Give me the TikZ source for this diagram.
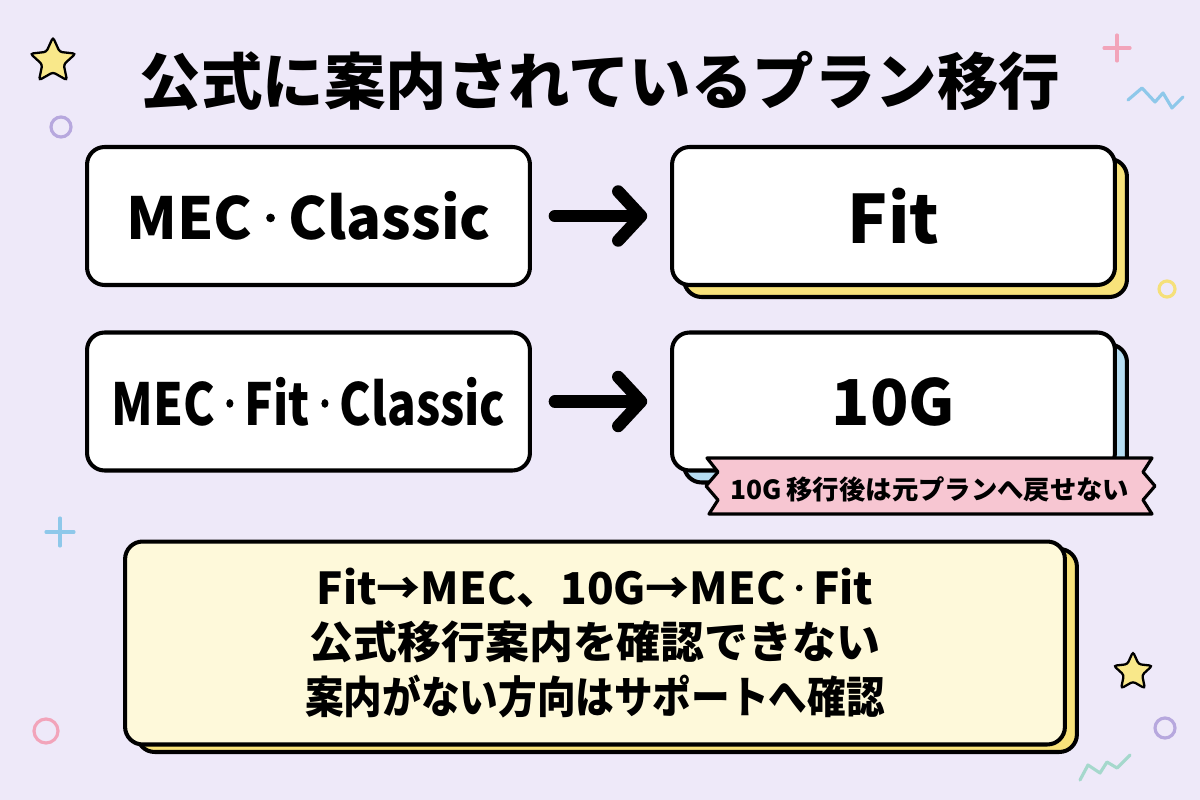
\documentclass[tikz,border=0pt]{standalone}
\usepackage{fontspec}
\setmainfont{Noto Sans CJK JP}
\usetikzlibrary{arrows.meta,shapes.geometric}
\definecolor{BgClr}{RGB}{238,233,249}
\definecolor{ShadeYel}{RGB}{248,226,122}
\definecolor{ShadeBlu}{RGB}{182,221,242}
\definecolor{RibbonClr}{RGB}{247,198,210}
\definecolor{NoteClr}{RGB}{254,249,218}
\definecolor{StarClr}{RGB}{249,232,138}
\definecolor{LilacClr}{RGB}{183,168,222}
\definecolor{RoseClr}{RGB}{242,164,186}
\definecolor{SkyClr}{RGB}{142,200,234}
\definecolor{MintClr}{RGB}{165,216,204}
\definecolor{GoldClr}{RGB}{245,224,122}
\newcommand{\dotsep}{\hspace{0.24em}\raisebox{0.3em}{\tikz\fill (0,0) circle (0.075em);}\hspace{0.24em}}

\begin{document}
\begin{tikzpicture}[x=0.02cm,y=-0.02cm,
  plan/.style={draw=black,line width=2.3pt,rounded corners=10pt,fill=white,
    minimum width=8.86cm,minimum height=2.76cm,inner sep=0pt},
  note/.style={plan,fill=NoteClr,minimum width=18.8cm,minimum height=4.06cm},
  go/.style={line width=7pt,line cap=round,
    -{Straight Barb[length=13pt,width=28pt,round]}},
  ring/.style={line width=1.8pt},
  spark/.style={line width=1.8pt,line cap=round,line join=round},
  twinkle/.style={star,star points=5,star point ratio=2.1,draw=black,
    line width=1.3pt,fill=StarClr,rounded corners=1.5pt,inner sep=0pt}]
\useasboundingbox (0,0) rectangle (1200,800);
\fill[BgClr] (0,0) rectangle (1200,800);

\node[font=\fontsize{35}{40}\selectfont\bfseries] (title) at (600,81) {公式に案内されているプラン移行};

\node[plan,font=\fontsize{33}{38}\selectfont\bfseries] (mec) at (308.5,216) {MEC\dotsep Classic};
\node[plan,font=\fontsize{33}{38}\selectfont\bfseries] (mecfit) at (308.5,401.5) {\scalebox{0.82}[1]{MEC\dotsep Fit\dotsep Classic}};

\node[plan,fill=ShadeYel] (fitsh) at (905.5,228) {};
\node[plan,font=\fontsize{38}{44}\selectfont\bfseries] (fit) at (893.5,216) {Fit};
\node[plan,fill=ShadeBlu] (tensh) at (905.5,413.5) {};
\node[plan,font=\fontsize{36}{42}\selectfont\bfseries] (ten) at (893.5,401.5) {10G};

\draw[go] ([xshift=13pt]mec.east) -- ([xshift=-13pt]fit.west);
\draw[go] ([xshift=13pt]mecfit.east) -- ([xshift=-13pt]ten.west);

\draw[line width=1.8pt,line join=round,fill=RibbonClr]
  (707,458) -- (718,472) -- (706,486) -- (718,500) -- (709,514)
  -- (1152,514) -- (1143,500) -- (1155,486) -- (1143,472) -- (1152,458) -- cycle;
\node[font=\fontsize{15}{18}\selectfont\bfseries] (warn) at (930,489) {10G\,移行後は元プランへ戻せない};

\node[note,fill=ShadeYel] (notesh) at (607,650.5) {};
\node[note,align=center,font=\fontsize{25}{31}\selectfont\bfseries] (memo) at (595,643)
  {Fit→MEC、10G→MEC\dotsep Fit\\公式移行案内を確認できない\\\scalebox{0.88}[1]{案内がない方向はサポートへ確認}};

\node[twinkle,minimum size=27pt] (star1) at (53,61) {};
\node[twinkle,minimum size=23pt] (star2) at (1133,672) {};

\draw[ring,LilacClr] (61,127) circle (10);
\draw[ring,RoseClr] (46,731) circle (12);
\draw[ring,LilacClr] (1165,728) circle (10);
\draw[ring,GoldClr] (1167,289) circle (8);

\draw[spark,RoseClr] (1104,48) -- (1130,48) (1117,35) -- (1117,61);
\draw[spark,SkyClr] (46,532) -- (74,532) (60,518) -- (60,546);
\draw[spark,SkyClr] (1128,100) -- (1142,88) -- (1155,102) -- (1163,93) -- (1172,108) -- (1183,97);
\draw[spark,MintClr] (1080,780) -- (1088,765) -- (1100,773) -- (1107,762) -- (1117,768) -- (1130,755);

\end{tikzpicture}
\end{document}
